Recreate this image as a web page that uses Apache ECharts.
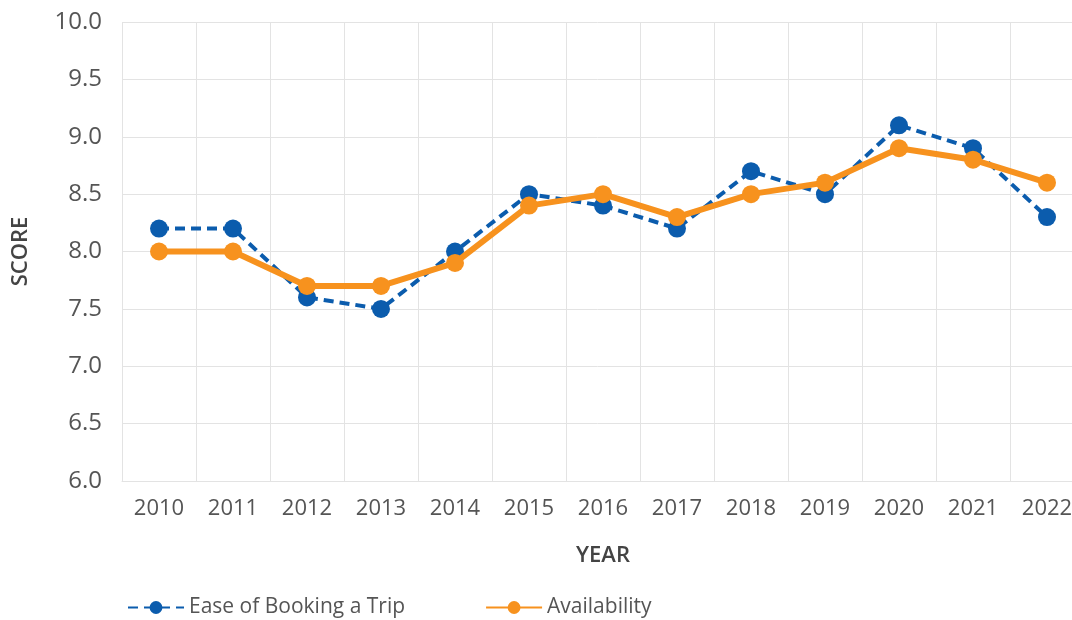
<!DOCTYPE html>
<html>
<head>
<meta charset="utf-8">
<script src="https://cdn.jsdelivr.net/npm/echarts@6/dist/echarts.min.js"></script>
<style>
  html, body { margin: 0; padding: 0; background: #fff; }
  #chart { width: 1072px; height: 620px; }
</style>
</head>
<body>
<div id="chart"></div>
<script>
// 年份
const years = ['2010', '2011', '2012', '2013', '2014', '2015', '2016', '2017', '2018', '2019', '2020', '2021', '2022'];
// 两条折线数据
const easeOfBooking = [8.2, 8.2, 7.6, 7.5, 8.0, 8.5, 8.4, 8.2, 8.7, 8.5, 9.1, 8.9, 8.3];
const availability = [8.0, 8.0, 7.7, 7.7, 7.9, 8.4, 8.5, 8.3, 8.5, 8.6, 8.9, 8.8, 8.6];

const fontFamily = '"Open Sans", "Noto Sans", sans-serif';
const gridColor = '#e3e3e3';
const textColor = '#555';

const chart = echarts.init(document.getElementById('chart'));

chart.setOption({
  backgroundColor: '#fff',
  animation: false,
  textStyle: { fontFamily },
  // 最后一格被画布裁掉一部分，所以宽度超出画布
  grid: { left: 122, width: 962, top: 22, bottom: 139, outerBoundsMode: 'none' },
  legend: {
    left: 122,
    top: 592,
    itemWidth: 56,
    itemHeight: 16,
    itemGap: 80,
    textStyle: { fontSize: 21, color: textColor, fontFamily },
    data: ['Ease of Booking a Trip', 'Availability'],
  },
  xAxis: {
    type: 'category',
    boundaryGap: true,
    data: years,
    name: 'YEAR',
    nameLocation: 'middle',
    nameGap: 64,
    nameTextStyle: { fontSize: 22, fontWeight: 600, color: '#444', fontFamily },
    axisLine: { lineStyle: { color: gridColor, width: 1 } },
    axisTick: { show: false },
    axisLabel: { fontSize: 22, color: textColor, margin: 17 },
    splitLine: { show: true, lineStyle: { color: gridColor, width: 1 } },
  },
  yAxis: {
    type: 'value',
    min: 6,
    max: 10,
    interval: 0.5,
    name: 'SCORE',
    nameLocation: 'middle',
    nameGap: 90,
    nameTextStyle: { fontSize: 22, fontWeight: 600, color: '#444', fontFamily },
    axisLine: { show: false },
    axisTick: { show: false },
    axisLabel: {
      fontSize: 24,
      color: textColor,
      margin: 20,
      formatter: (v) => v.toFixed(1),
    },
    splitLine: { lineStyle: { color: gridColor, width: 1 } },
  },
  series: [
    {
      name: 'Ease of Booking a Trip',
      type: 'line',
      data: easeOfBooking,
      symbol: 'circle',
      symbolSize: 18,
      color: '#0b5cad',
      lineStyle: { width: 4, type: [10, 6], color: '#0b5cad' },
      itemStyle: { color: '#0b5cad' },
      z: 2,
    },
    {
      name: 'Availability',
      type: 'line',
      data: availability,
      symbol: 'circle',
      symbolSize: 18,
      color: '#f7921e',
      lineStyle: { width: 6, color: '#f7921e' },
      itemStyle: { color: '#f7921e' },
      z: 3,
    },
  ],
});
</script>
</body>
</html>
